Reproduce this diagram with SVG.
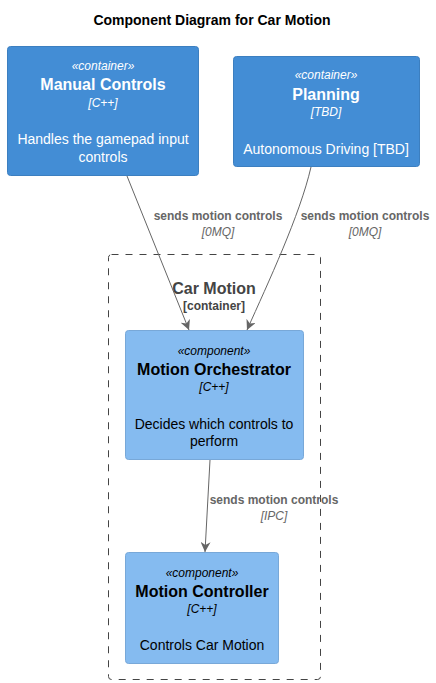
<svg xmlns="http://www.w3.org/2000/svg" width="436" height="683" viewBox="0 0 436 683">
<style>
text{font-family:"Liberation Sans",Arial,sans-serif;text-anchor:middle}
.title{font-size:14px;font-weight:bold;fill:#000}
.cont{fill:#438DD5;stroke:#3C7FC0;stroke-width:1}
.comp{fill:#85BBF0;stroke:#78A8D8;stroke-width:1}
.w{fill:#FFFFFF}
.b{fill:#000000}
.st{font-size:12px;font-style:italic}
.nm{font-size:16px;font-weight:bold}
.tech{font-size:12px;font-style:italic}
.desc{font-size:14px}
.lbl{font-size:12px;font-weight:bold;fill:#666666}
.lt{font-size:12px;font-style:italic;fill:#666666}
.edge{fill:none;stroke:#666666;stroke-width:1;marker-end:url(#ah)}
.bnd{fill:none;stroke:#444444;stroke-width:1;stroke-dasharray:7,7}
</style>
<defs>
<marker id="ah" viewBox="0 0 10 10" refX="10" refY="5" markerWidth="10" markerHeight="10" markerUnits="userSpaceOnUse" orient="auto">
<path d="M0,0 L10,5 L0,10 L3,5 Z" fill="#666666"/>
</marker>
</defs>
<rect width="436" height="683" fill="#FFFFFF"/>
<text class="title" x="212" y="25">Component Diagram for Car Motion</text>

<g id="car-motion-boundary">
<rect class="bnd" x="108.5" y="254.5" width="212" height="425" rx="3"/>
<text x="214" y="294" style="font-size:16px;font-weight:bold;fill:#444444">Car Motion</text>
<text x="214" y="310" style="font-size:12px;font-weight:bold;fill:#444444">[container]</text>
</g>

<g id="manual-controls">
<rect class="cont" x="7.5" y="46.5" width="191" height="129" rx="3"/>
<text class="st w" x="103" y="70">«container»</text>
<text class="nm w" x="103" y="90">Manual Controls</text>
<text class="tech w" x="103" y="107">[C++]</text>
<text class="desc w" x="103" y="144">Handles the gamepad input</text>
<text class="desc w" x="103" y="162">controls</text>
</g>

<g id="planning">
<rect class="cont" x="233.5" y="56.5" width="186" height="110" rx="3"/>
<text class="st w" x="326" y="79">«container»</text>
<text class="nm w" x="326" y="100">Planning</text>
<text class="tech w" x="326" y="116">[TBD]</text>
<text class="desc w" x="326" y="154">Autonomous Driving [TBD]</text>
</g>

<g id="motion-orchestrator">
<rect class="comp" x="125.5" y="330.5" width="178" height="129" rx="3"/>
<text class="st b" x="214" y="355">«component»</text>
<text class="nm b" x="214" y="375">Motion Orchestrator</text>
<text class="tech b" x="214" y="391">[C++]</text>
<text class="desc b" x="214" y="429">Decides which controls to</text>
<text class="desc b" x="214" y="446">perform</text>
</g>

<g id="motion-controller">
<rect class="comp" x="125.5" y="552.5" width="153" height="111" rx="3"/>
<text class="st b" x="202" y="577">«component»</text>
<text class="nm b" x="202" y="597">Motion Controller</text>
<text class="tech b" x="202" y="613">[C++]</text>
<text class="desc b" x="202" y="650">Controls Car Motion</text>
</g>

<g id="connectors">
<path class="edge" d="M127,176 L189,330"/>
<text class="lbl" x="218" y="220">sends motion controls</text>
<text class="lt" x="218" y="236">[0MQ]</text>
<path class="edge" d="M311,167 C300,215 268,283 247,330"/>
<text class="lbl" x="365" y="220">sends motion controls</text>
<text class="lt" x="365" y="236">[0MQ]</text>
<path class="edge" d="M210,460 L205,552"/>
<text class="lbl" x="274" y="504">sends motion controls</text>
<text class="lt" x="274" y="520">[IPC]</text>
</g>
</svg>
